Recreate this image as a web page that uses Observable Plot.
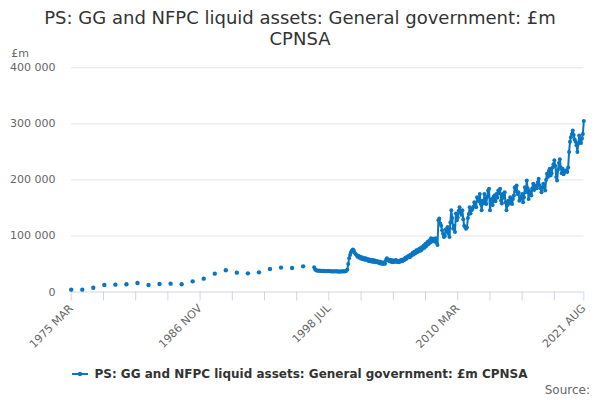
<!DOCTYPE html>
<html><head><meta charset="utf-8">
<script src="https://cdn.jsdelivr.net/npm/d3@7"></script>
<script src="https://cdn.jsdelivr.net/npm/@observablehq/plot@0.6"></script>
<style>
body{margin:0;background:#fff;font-family:"DejaVu Sans",sans-serif;}
#wrap{position:relative;width:600px;height:400px;overflow:hidden;background:#fff;}
#title{position:absolute;top:7px;left:30px;width:540px;text-align:center;font-size:18px;line-height:21px;color:#333;}
#chart{position:absolute;top:48px;left:0;}
#legend{position:absolute;top:366px;left:0;width:600px;display:flex;justify-content:center;align-items:center;font-size:12px;font-weight:bold;color:#333;line-height:16px;}
#legend svg{margin-right:6px;}
#source{position:absolute;right:10px;top:382px;font-size:12px;color:#666;line-height:16px;}
</style></head>
<body>
<div id="wrap">
  <div id="title">PS: GG and NFPC liquid assets: General government: £m CPNSA</div>
  <div id="chart"></div>
  <div id="legend"></div>
  <div id="source">Source:</div>
</div>
<script>
const seriesName = "PS: GG and NFPC liquid assets: General government: £m CPNSA";
const color = "#0a76c2";

// Annual observations (March), 1975–1996, £m
const annualYears = [1975,1976,1977,1978,1979,1980,1981,1982,1983,1984,1985,1986,1987,1988,1989,1990,1991,1992,1993,1994,1995,1996];
const annualValues = [4200,4200,7700,12500,13100,13700,16100,12500,14300,14900,13700,19000,23800,32700,38700,34500,33300,35100,41100,43500,42900,45800];

// Monthly observations from 1997 MAR to 2021 AUG, £m
const monthlyStart = "1997-03-01";
const monthlyValues = [
  // 1997 Mar-Dec
  44000,40500,39000,38500,38000,37800,38200,37600,37900,37400,
  // 1998
  37800,37200,37600,37000,37400,36900,37300,36800,37200,36700,37000,36600,
  // 1999
  37100,36500,36900,36400,36800,36300,36700,36400,36900,36500,37000,36600,
  // 2000
  37200,38000,40000,50000,60000,66000,71000,74000,76000,74000,70000,68000,
  // 2001
  66000,63000,64500,61000,63000,59500,62000,58500,60500,57500,60000,57000,
  // 2002
  59000,55500,58000,55000,57500,54000,57000,53500,56000,53000,55500,52500,
  // 2003
  54500,51500,54000,50500,52500,50000,53000,50500,57000,60000,56000,58000,
  // 2004
  55000,57500,53500,56500,53000,56000,54000,57000,53500,55500,53000,56000,
  // 2005
  54500,57500,55000,58500,57000,61000,59000,63000,61500,65000,62000,67000,
  // 2006
  65000,70000,67000,72000,69000,74500,71000,76000,72500,78000,74000,80000,
  // 2007
  77000,83000,79000,86000,82000,89000,85000,92000,88000,96000,90000,95000,
  // 2008
  94000,90000,96000,88000,84000,128000,131000,122000,118000,110000,104000,98000,
  // 2009
  100000,112000,108000,116000,104000,98000,124000,146000,132000,113000,118000,107000,
  // 2010
  140000,128000,133000,145000,151000,142000,138000,146000,130000,118000,116000,113000,
  // 2011
  115000,132000,139000,151000,140000,146000,148000,152000,160000,155000,151000,169000,
  // 2012
  166000,162000,175000,157000,146000,163000,158000,175000,165000,157000,170000,181000,
  // 2013
  184000,146000,160000,166000,155000,170000,172000,162000,175000,168000,181000,176000,
  // 2014
  184000,163000,158000,175000,168000,178000,160000,146000,155000,163000,158000,169000,
  // 2015
  165000,157000,166000,172000,187000,180000,190000,175000,178000,163000,166000,170000,
  // 2016
  175000,160000,169000,187000,178000,199000,185000,166000,180000,176000,172000,185000,
  // 2017
  193000,182000,186000,190000,185000,196000,202000,190000,185000,178000,186000,193000,
  // 2018
  188000,181000,200000,211000,205000,216000,220000,208000,212000,222000,228000,235000,
  // 2019
  225000,205000,199000,218000,230000,237000,222000,212000,220000,210000,214000,216000,
  // 2020
  217000,214000,222000,250000,268000,276000,282000,288000,280000,272000,268000,262000,
  // 2021 Jan-Aug
  250000,265000,279000,270000,266000,274000,282000,305000
];

const yTicks = [0,100000,200000,300000,400000];
const xTickLabels = ["1975 MAR","1986 NOV","1998 JUL","2010 MAR","2021 AUG"];
const xLabelDates = ["1975-03-01","1986-11-01","1998-07-01","2010-03-01","2021-08-01"];

const annual = annualYears.map((y,i) => ({date: new Date(Date.UTC(y,2,1)), value: annualValues[i]}));
const m0 = new Date(monthlyStart + "T00:00:00Z");
const monthly = monthlyValues.map((v,i) => ({date: d3.utcMonth.offset(m0, i), value: v}));

const xStart = new Date(xLabelDates[0] + "T00:00:00Z");
const xEnd = new Date(xLabelDates[xLabelDates.length-1] + "T00:00:00Z");
const xTicks = [];
for (let i = 0; i < 16; i++) xTicks.push(d3.utcMonth.offset(xStart, 35*i));
xTicks.push(xEnd);
const labelMap = new Map(xLabelDates.map((d,i) => [new Date(d + "T00:00:00Z").getTime(), xTickLabels[i]]));

const fmtY = d => d3.format(",")(d).replace(/,/g, " ");

const chart = Plot.plot({
  width: 600,
  height: 308,
  marginTop: 19.3,
  marginBottom: 64.5,
  marginLeft: 70.7,
  marginRight: 16.7,
  style: {fontFamily: "DejaVu Sans", fontSize: "11px", background: "white", overflow: "visible"},
  x: {type: "utc", domain: [xStart, xEnd]},
  y: {domain: [0, 400000]},
  marks: [
    Plot.gridY(yTicks.slice(1), {stroke: "#e6e6e6", strokeOpacity: 1, strokeWidth: 1}),
    Plot.axisY(yTicks, {tickSize: 0, tickPadding: 15.7, tickFormat: fmtY, fill: "#666", fontSize: 11, label: null}),
    Plot.ruleY([0], {stroke: "#ccd6eb", strokeWidth: 1}),
    Plot.axisX(xTicks, {tickSize: 9, tickPadding: 5.5, stroke: "#ccd6eb", fill: "#666", fontSize: 11,
      tickRotate: -45, tickFormat: d => labelMap.get(d.getTime()) || "", label: null}),
    Plot.line(monthly, {x: "date", y: "value", stroke: color, strokeWidth: 2}),
    Plot.dot(monthly, {x: "date", y: "value", r: 2, fill: color, stroke: null}),
    Plot.dot(annual, {x: "date", y: "value", r: 2.2, fill: color, stroke: null}),
    Plot.text(["£m"], {frameAnchor: "top-left", dx: -60, dy: -14, textAnchor: "start", lineAnchor: "middle", fill: "#666", fontSize: 11})
  ]
});
document.getElementById("chart").appendChild(chart);

const legend = document.getElementById("legend");
legend.innerHTML = `<svg width="16" height="10"><line x1="0" x2="16" y1="5" y2="5" stroke="${color}" stroke-width="2"/><circle cx="8" cy="5" r="2.2" fill="${color}"/></svg><span></span>`;
legend.querySelector("span").textContent = seriesName;
</script>
</body></html>
